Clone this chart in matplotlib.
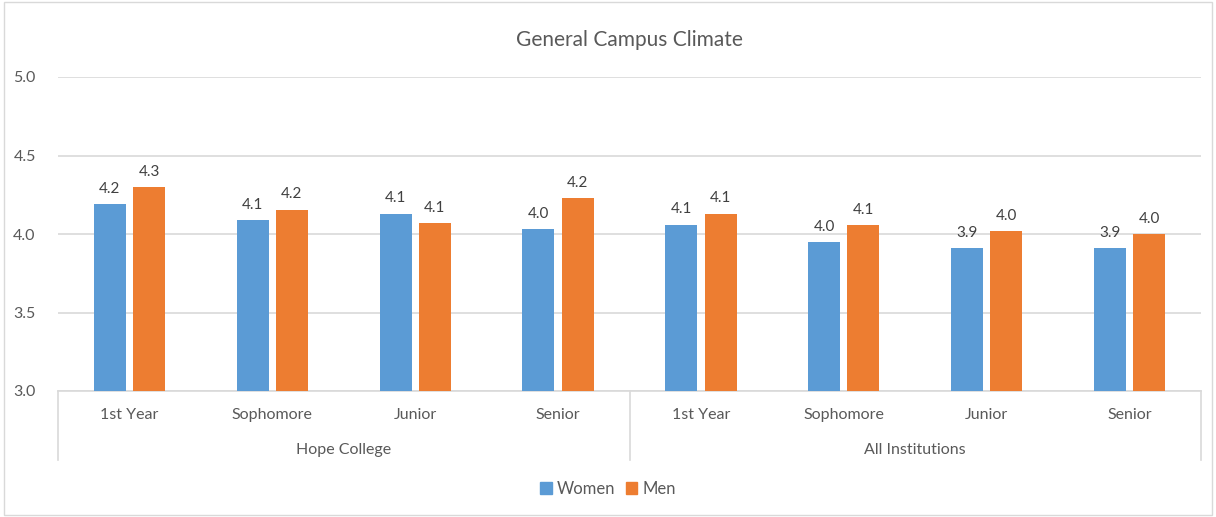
import matplotlib
matplotlib.use("Agg")
import matplotlib.pyplot as plt
import numpy as np
from matplotlib.patches import Patch, Rectangle
from matplotlib.lines import Line2D

groups = ["Hope College", "All Institutions"]
categories = ["1st Year", "Sophomore", "Junior", "Senior"]
women = [4.19, 4.09, 4.13, 4.03, 4.06, 3.95, 3.91, 3.91]
men = [4.30, 4.155, 4.07, 4.23, 4.13, 4.055, 4.02, 4.00]
yticks = [3.0, 3.5, 4.0, 4.5, 5.0]
title = "General Campus Climate"

plt.rcParams['font.family'] = ['Lato', 'DejaVu Sans']
TXT = "#595959"
BLUE = "#5B9BD5"
ORANGE = "#ED7D31"
GRID = "#D9D9D9"

fig = plt.figure(figsize=(12.16, 5.17), dpi=100)
ax = fig.add_axes([58/1216, 1-391/517, (1201-58)/1216, (391-77)/517])

n = len(women)
x = np.arange(n)
w = 0.224
off = 0.137
ax.bar(x - off, women, w, color=BLUE, zorder=3)
ax.bar(x + off, men, w, color=ORANGE, zorder=3)
for xi, v in zip(x - off, women):
    ax.annotate(f"{v + 1e-9:.1f}", (xi, v), xytext=(0, 6), textcoords="offset points",
                ha="center", va="bottom", fontsize=11, color="#404040")
for xi, v in zip(x + off, men):
    ax.annotate(f"{v + 1e-9:.1f}", (xi, v), xytext=(0, 6), textcoords="offset points",
                ha="center", va="bottom", fontsize=11, color="#404040")

ax.set_ylim(3.0, 5.0)
ax.set_xlim(-0.5, n - 0.5)
ax.set_yticks(yticks)
ax.set_yticklabels([f"{t:.1f}" for t in yticks])
ax.yaxis.grid(True, color=GRID, linewidth=1.2, zorder=0)
ax.set_axisbelow(True)
for s in ["left", "right", "top"]:
    ax.spines[s].set_visible(False)
ax.spines["bottom"].set_color(GRID)
ax.spines["bottom"].set_linewidth(1.2)
ax.tick_params(axis="y", length=0, pad=16, labelsize=11.5, labelcolor=TXT)
ax.tick_params(axis="x", length=0, pad=12, labelsize=11.5, labelcolor=TXT)
ax.set_xticks(x)
ax.set_xticklabels(categories * len(groups))

# multi-level axis
trans = ax.get_xaxis_transform()
low = -69/314
for xv in [-0.5, 3.5, 7.5]:
    ax.add_line(Line2D([xv, xv], [0, low], transform=trans, color=GRID,
                       linewidth=1.2, clip_on=False))
for gi, g in enumerate(groups):
    ax.text(gi * 4 + 1.5, -59/314, g, transform=trans, ha="center", va="center",
            fontsize=11.5, color=TXT)

ax.set_title(title, fontsize=15, color=TXT, pad=22)

fig.legend(handles=[Patch(color=BLUE, label="Women"), Patch(color=ORANGE, label="Men")],
           loc="center", bbox_to_anchor=(0.5, 1-489/517), ncol=2, frameon=False,
           fontsize=12, labelcolor=TXT, handlelength=0.7, handleheight=0.7,
           handletextpad=0.3, columnspacing=0.6)

fig.add_artist(Rectangle((0.003, 0.004), 0.994, 0.992, transform=fig.transFigure,
                         fill=False, edgecolor=GRID, linewidth=1))

fig.savefig("out.png", dpi=100, facecolor="white")
